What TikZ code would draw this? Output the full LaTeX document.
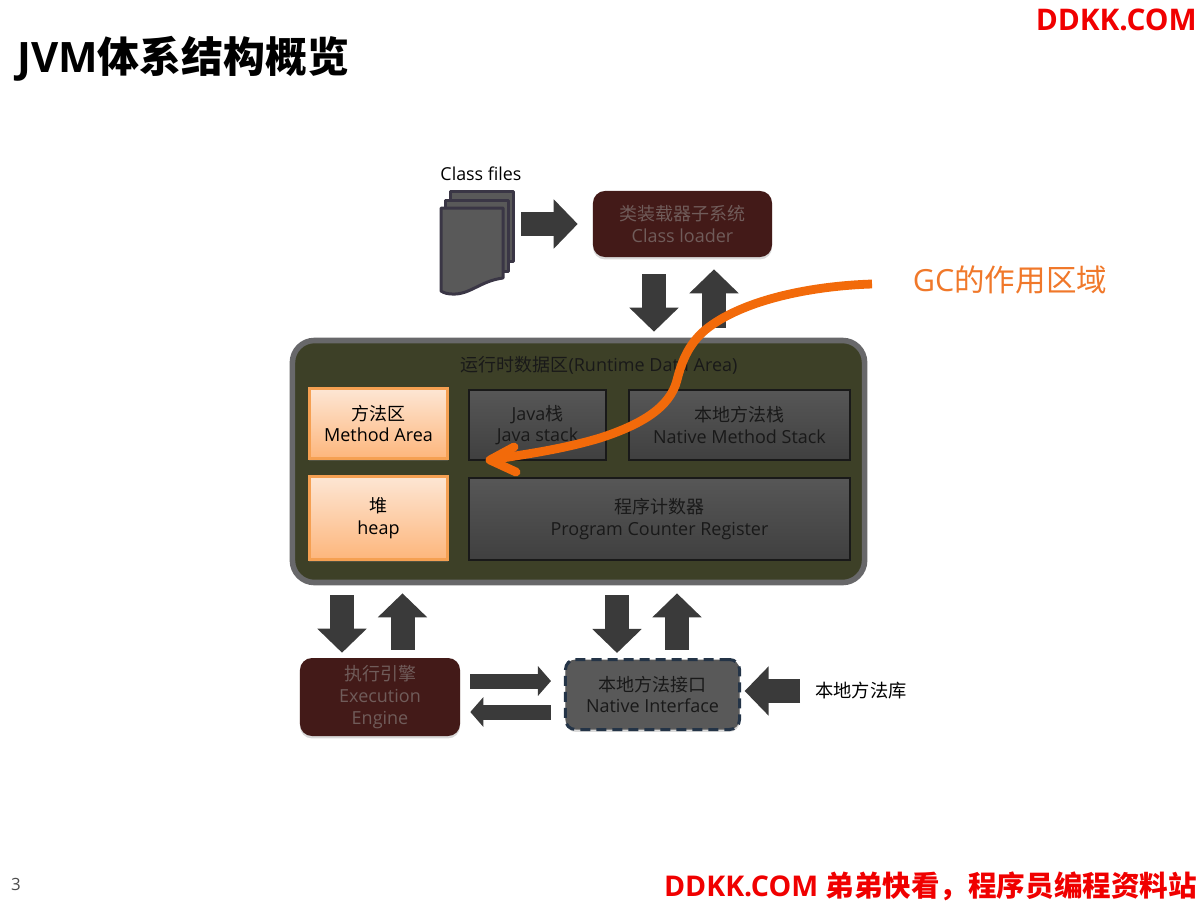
\documentclass[tikz,border=0pt]{standalone}
\usepackage{fontspec}
\setmainfont{Open Sans}
\newfontfamily\zhfont{Noto Sans CJK SC}
\newcommand{\zh}[1]{{\zhfont #1}}
\usetikzlibrary{arrows.meta,shadows}
\definecolor{ddkkred}{HTML}{F00000}
\definecolor{gcorange}{HTML}{F26A0A}
\definecolor{gctext}{HTML}{F0782A}
\definecolor{arrowgray}{HTML}{3A3A3A}
\definecolor{maroonbox}{HTML}{431A18}
\definecolor{maroontext}{HTML}{705C5A}
\definecolor{areafill}{HTML}{3D4027}
\definecolor{arealine}{HTML}{68686A}
\definecolor{sheetline}{HTML}{3A3645}
\definecolor{dashline}{HTML}{243447}
\definecolor{hotline}{HTML}{F5A052}
\definecolor{hottop}{HTML}{FDE6D4}
\definecolor{hotbottom}{HTML}{FDB67C}
\begin{document}
\begin{tikzpicture}[
            x=.025cm,y=-.025cm,
            softshadow/.style={drop shadow={opacity=.3,shadow xshift=0pt,shadow yshift=-.06cm}},
            boxtext/.style={align=center,inner sep=0pt,font=\fontsize{12.8}{15.4}\selectfont},
            maroon/.style={boxtext,fill=maroonbox,text=maroontext,rounded corners=.3cm,softshadow},
            databox/.style={boxtext,draw=black!90,line width=.05cm,top color=black!66,bottom color=black!75,text=black!90},
            hotbox/.style={boxtext,draw=hotline,line width=.075cm,top color=hottop,bottom color=hotbottom,text=black,softshadow},
            sheet/.style={draw=sheetline,fill=black!65,line width=.075cm,line join=round},
            bigarrow/.style={draw=arrowgray,line width=.6cm,-{Triangle[length=.6cm,width=1.2cm]}},
            thinarrow/.style={draw=arrowgray,line width=.375cm,-{Triangle[length=.325cm,width=.725cm]}},
            gcline/.style={draw=gcorange,line width=.22cm,line cap=round,line join=round}
            ]
            \useasboundingbox (0,0) rectangle (1200,900);

            \node[anchor=west,inner sep=0pt,font=\fontsize{29.8}{34}\selectfont\bfseries] (title) at (17,59) {JVM\zh{体系结构概览}};
            \node[anchor=east,inner sep=0pt,text=ddkkred,font=\fontsize{21.2}{25}\selectfont\bfseries] (site) at (1197,20) {DDKK.COM};
            \node[anchor=east,inner sep=0pt,text=ddkkred,font=\fontsize{20.3}{24}\selectfont\bfseries] (slogan) at (1197,886) {DDKK.COM \zh{弟弟快看，程序员编程资料站}};
            \node[inner sep=0pt,text=black!70,font=\fontsize{12}{14}\selectfont] (page) at (16,884) {3};

            \node[inner sep=0pt,font=\fontsize{12.7}{15}\selectfont] (filesname) at (481,174) {Class files};
            \node[inner sep=0pt,minimum width=1.8cm,minimum height=2.55cm] (files) at (477,242) {};
            \draw[sheet] (450,191) rectangle (513,261);
            \draw[sheet] (445,200) rectangle (508,271);
            \draw[sheet] (441,208) -- (503,208) -- (503,278) .. controls (480,281) and (470,295) .. (452,294) .. controls (448,294) and (444,293) .. (441,291) -- cycle;

            \node[maroon,minimum width=4.475cm,minimum height=1.65cm] (loader) at (682.5,224) {\zh{类装载器子系统}\\Class loader};

            \node[draw=arealine,fill=areafill,line width=.14cm,rounded corners=.55cm,minimum width=14.3cm,minimum height=6.05cm,softshadow] (area) at (578.5,461.5) {};
            \node[boxtext,text=black!90] (areaname) at (599,365) {\zh{运行时数据区}(Runtime Data Area)};
            \node[hotbox,minimum width=3.45cm,minimum height=1.75cm] (method) at (378.5,423.5) {\zh{方法区}\\Method Area};
            \node[hotbox,minimum width=3.45cm,minimum height=2.075cm] (heap) at (378.5,518) {\zh{堆}\\heap};
            \node[databox,minimum width=3.425cm,minimum height=1.75cm] (javastack) at (537.5,425) {Java\zh{栈}\\Java stack};
            \node[databox,minimum width=5.525cm,minimum height=1.75cm] (nativestack) at (739.5,425) {\zh{本地方法栈}\\Native Method Stack};
            \node[databox,minimum width=9.525cm,minimum height=2.05cm] (counter) at (659.5,519) {\zh{程序计数器}\\Program Counter Register};

            \node[maroon,minimum width=4cm,minimum height=1.95cm] (engine) at (380,697) {\zh{执行引擎}\\Execution\\Engine};
            \node[boxtext,draw=dashline,fill=black!65,line width=.075cm,rounded corners=.25cm,dash pattern=on .25cm off .15cm,text=black!90,minimum width=4.35cm,minimum height=1.75cm,softshadow] (iface) at (652.5,694.5) {\zh{本地方法接口}\\Native Interface};
            \node[inner sep=0pt,font=\fontsize{13}{15}\selectfont] (library) at (861,691) {\zh{本地方法库}};

            \draw[bigarrow,shorten <=.2cm,shorten >=.375cm] (files.east |- loader.west) -- (loader.west);
            \draw[bigarrow,shorten <=.425cm,shorten >=.15cm] (loader.south -| 654,0) -- (area.north -| 654,0);
            \draw[bigarrow,shorten <=.25cm,shorten >=.3cm] (area.north -| 714,0) -- (loader.south -| 714,0);
            \draw[bigarrow,shorten <=.25cm,shorten >=.125cm] (area.south -| 342,0) -- (engine.north -| 342,0);
            \draw[bigarrow,shorten <=.2cm,shorten >=.2cm] (engine.north -| 402.5,0) -- (area.south -| 402.5,0);
            \draw[bigarrow,shorten <=.25cm,shorten >=.125cm] (area.south -| 617,0) -- (iface.north -| 617,0);
            \draw[bigarrow,shorten <=.2cm,shorten >=.2cm] (iface.north -| 677,0) -- (area.south -| 677,0);
            \draw[thinarrow,shorten <=.25cm,shorten >=.325cm] (engine.east |- 0,681) -- (iface.west |- 0,681);
            \draw[thinarrow,shorten <=.325cm,shorten >=.25cm] (iface.west |- 0,712) -- (engine.east |- 0,712);
            \draw[bigarrow,shorten <=.375cm,shorten >=.09cm] (library.west) -- (iface.east |- library.west);

            \node[inner sep=0pt,text=gctext,font=\fontsize{21.7}{26}\selectfont] (gcname) at (1010,280) {GC\zh{的作用区域}};
            \coordinate (gcstart) at (872,284);
            \coordinate (gctip) at (490,460);
            \coordinate (gcbarbup) at (514,447);
            \coordinate (gcbarbdown) at (516,472);
            \draw[gcline,line cap=butt] (gcstart) .. controls (810,286) and (745,300) .. (709,327)
                .. controls (690,341) and (682,360) .. (677,380)
                .. controls (670,408) and (640,425) .. (600,438)
                .. controls (560,450) and (520,455) .. (gctip);
            \draw[gcline] (gcbarbup) -- (gctip) -- (gcbarbdown);
        \end{tikzpicture}
\end{document}
